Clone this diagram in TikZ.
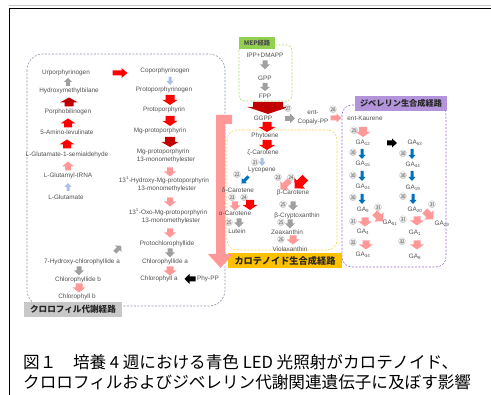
\documentclass[tikz,border=0pt]{standalone}
\usepackage{fontspec}
\setmainfont{Liberation Sans}
\newfontfamily\jp{Noto Sans CJK JP}
\definecolor{tx}{HTML}{505050}
\definecolor{rd}{HTML}{FF0000}
\definecolor{drd}{HTML}{C00000}
\definecolor{pk}{HTML}{FF9999}
\definecolor{lb}{HTML}{A9C1E8}
\definecolor{bl}{HTML}{0070C0}
\definecolor{gy}{HTML}{A0A0A0}
\definecolor{chlb}{HTML}{8C96A8}
\definecolor{mepg}{HTML}{92D050}
\definecolor{mepd}{HTML}{A9DB6E}
\definecolor{caro}{HTML}{FFC000}
\definecolor{carod}{HTML}{FFD24D}
\definecolor{gapu}{HTML}{B394DB}
\definecolor{gapd}{HTML}{9A6ACB}
\definecolor{chlg}{HTML}{C8C8C8}
% block arrow: x, y, angle, length, shaft, head width, head length, colour
\newcommand\BArr[8]{\fill[#8,shift={(#1,#2)},rotate=#3] (-#4/2,-#5/2) -- ({#4/2-#7},-#5/2) -- ({#4/2-#7},-#6/2) -- (#4/2,0) -- ({#4/2-#7},#6/2) -- ({#4/2-#7},#5/2) -- (-#4/2,#5/2) -- cycle;}
\tikzset{
  lbl/.style={font=\fontsize{6.4}{8.6}\selectfont, text=tx, inner sep=0pt, align=center},
  cnum/.style={font=\jp\fontsize{7.4}{7.4}\selectfont, text=black!55, circle, fill=gray!22, inner sep=-1.7pt},
  jlab/.style={font=\jp\bfseries\fontsize{8.6}{9}\selectfont, inner sep=0pt, text=black!85},
  pathbox/.style={dashed, dash pattern=on 2pt off 1.5pt, line width=0.6pt},
}
\begin{document}
\begin{tikzpicture}[x=1pt,y=-1pt]
\useasboundingbox (0,0) rectangle (491,395);
% frame
\draw[gray!45, line width=1.6pt] (9,5.5) -- (491,5.5);
\draw[black, line width=1pt] (9,395) -- (9,8.3) -- (491,8.3);

% ---------- pathway boxes ----------
\draw[pathbox, chlb, rounded corners=16pt] (27,54) rectangle (225,306);
\draw[pathbox, mepd, rounded corners=5pt] (239,45) rectangle (292,101);
\draw[pathbox, carod, rounded corners=10pt] (227,130) rectangle (337,250);
\draw[pathbox, gapd, rounded corners=10pt] (342,105) rectangle (446,267);

\node[jlab, fill=chlg, minimum width=98pt, minimum height=15pt] (chllab) at (73,309.5) {クロロフィル代謝経路};
\node[jlab, fill=caro, minimum width=114pt, minimum height=15pt, font=\jp\bfseries\fontsize{9.2}{9.5}\selectfont] (carlab) at (285,260.5) {カロテノイド生合成経路};
\node[jlab, fill=gapu, minimum width=92pt, minimum height=15pt, font=\jp\bfseries\fontsize{8.2}{9}\selectfont] (galab) at (401,103.5) {ジベレリン生合成経路};
\node[jlab, fill=mepg, minimum width=36pt, minimum height=12pt, font=\jp\bfseries\fontsize{6.3}{7}\selectfont, text=black!70] (meplab) at (257,43) {MEP経路};

% ---------- big pink L-arrow from GGPP ----------
\fill[pk] (216,115) -- (232,115) -- (232,124) -- (225,124) -- (225,254) -- (233,254) -- (220.5,268) -- (208,254) -- (216,254) -- cycle;

% ---------- chlorophyll: left column ----------
\node[lbl] (urp) at (66,73) {Urporphyrinogen};
\node[lbl] (hmb) at (69,91) {Hydroxymethylbilane};
\node[lbl] (pbg) at (68,112) {Porphobilinogen};
\node[lbl] (ala) at (67,132) {5-Amino-levulinate};
\node[lbl] (gsa) at (67,155) {L-Glutamate-1-semialdehyde};
\node[lbl] (gtr) at (68,176) {L-Glutamyl-tRNA};
\node[lbl] (glu) at (66,197) {L-Glutamate};
\BArr{68}{82}{90}{8}{4}{8}{4}{gy}
\BArr{69}{102}{90}{9}{9}{18}{5}{drd}
\BArr{68}{123}{90}{9}{8}{15}{5}{rd}
\BArr{67}{144}{90}{9}{8}{15}{5}{rd}
\BArr{68}{166}{90}{9}{6}{12}{5}{pk}
\BArr{68}{187}{90}{8}{3}{7}{4}{lb}

% ---------- chlorophyll: right column ----------
\node[lbl] (cop) at (165,71) {Coporphyrinogen};
\node[lbl] (ppg) at (164,90) {Protoporphyrinogen};
\node[lbl] (ppn) at (164,110) {Protoporphyrin};
\node[lbl] (mgp) at (160,131) {Mg-protoporphyrin};
\node[lbl] (mgme) at (163,156) {Mg-protoporphyrin\\\hspace*{6pt}13-monomethylester};
\node[lbl] (hyd) at (164,184.5) {13\textsuperscript{1}-Hydroxy-Mg-protoporphyrin\\\hspace*{6pt}13-monomethylester};
\node[lbl] (oxo) at (168,216.5) {13\textsuperscript{1}-Oxo-Mg-protoporphyrin\\\hspace*{6pt}13-monomethylester};
\node[lbl] (pchl) at (167,244) {Protochlorophyllide};
\node[lbl] (chlda) at (165,262) {Chlorophyllide a};
\node[lbl] (chla) at (159,279) {Chlorophyll a};
\node[lbl] (phypp) at (208,279) {Phy-PP};
\node[lbl] (hchl) at (82,262) {7-Hydroxy-chlorophyllide a};
\node[lbl] (chldb) at (78,280) {Chlorophyllide b};
\node[lbl] (chlb) at (77,297) {Chlorophyll b};
\BArr{120}{73}{0}{15}{5}{10}{6}{rd}
\BArr{170}{81}{-90}{8}{3}{7}{4}{lb}
\BArr{170}{100}{-90}{10}{9}{15}{5}{rd}
\BArr{170}{121}{-90}{10}{9}{15}{5}{rd}
\BArr{170}{142}{-90}{10}{10}{17}{5}{drd}
\BArr{170}{172}{-90}{9}{6}{12}{5}{pk}
\BArr{170}{202}{-90}{9}{6}{12}{5}{pk}
\BArr{170}{233}{-90}{9}{6}{12}{5}{pk}
\BArr{170}{253}{-90}{9}{5}{10}{5}{gy}
\BArr{170}{271}{-90}{9}{7}{13}{5}{pk}
\BArr{118}{249}{45}{9}{4}{9}{4}{gy}
\BArr{79}{271}{-90}{9}{5}{10}{5}{gy}
\BArr{79}{288}{-90}{9}{7}{13}{5}{pk}
\BArr{190}{279}{180}{11}{5}{10}{5}{black}

% ---------- MEP ----------
\node[lbl] (ipp) at (265,55) {IPP+DMAPP};
\node[lbl] (gpp) at (265,78) {GPP};
\node[lbl] (fpp) at (265,96) {FPP};
\node[lbl] (ggpp) at (263,118.5) {GGPP};
\BArr{265}{65}{-90}{9}{5}{10}{5}{gy}
\BArr{265}{87}{-90}{8}{5}{10}{4}{gy}
\BArr{268}{108}{-90}{12}{30}{42}{7}{drd}

% ---------- GGPP -> ent-Kaurene ----------
\node[cnum] (n27) at (288,109) {㉗};
\BArr{290}{118.5}{0}{10}{5}{10}{5}{gy}
\node[lbl] (cpp) at (313,117.5) {ent-\\Copaly-PP};
\node[cnum] (n28) at (333,110) {㉘};
\BArr{336}{118}{0}{11}{5}{9}{5}{pk}
\node[lbl] (kau) at (365,118) {ent-Kaurene};

% ---------- carotenoids ----------
\node[lbl] (phy) at (265,136) {Phytoene};
\node[lbl] (zcar) at (263,153) {ζ-Carotene};
\node[lbl] (lyc) at (262,170) {Lycopene};
\BArr{267}{127}{-90}{10}{9}{17}{5}{rd}
\BArr{267}{145}{-90}{10}{9}{16}{5}{rd}
\node[cnum] (n21) at (255,163) {㉑};
\BArr{262}{162}{-90}{8}{3}{7}{4}{lb}
\node[cnum] (n22) at (237,175) {㉒};
\BArr{245}{180}{-135}{10}{3}{7}{4}{bl}
\node[lbl] (dcar) at (238,190) {δ-Carotene};
\node[cnum] (n23a) at (278,178) {㉓};
\node[cnum] (n24a) at (291,178) {㉔};
\BArr{285}{185}{-135}{13}{6}{12}{6}{pk}
\BArr{300}{183}{-135}{15}{8}{15}{7}{rd}
\node[lbl] (bcar) at (293,193) {β-Carotene};
\node[cnum] (n23b) at (232,198) {㉓};
\node[cnum] (n24b) at (244,198) {㉔};
\BArr{235}{206}{-90}{9}{6}{11}{5}{pk}
\BArr{250}{205}{-90}{10}{8}{15}{5}{rd}
\node[lbl] (acar) at (235,213) {α-Carotene};
\node[cnum] (n25a) at (229,223) {㉕};
\BArr{239}{223}{-90}{9}{5}{10}{5}{gy}
\node[lbl] (lut) at (237,231) {Lutein};
\node[cnum] (n25b) at (283,205) {㉕};
\BArr{293}{206}{-90}{9}{5}{10}{5}{gy}
\node[lbl] (bcry) at (297,216) {β-Cryptoxanthin};
\node[cnum] (n25c) at (281,223) {㉕};
\BArr{290}{224}{-90}{9}{5}{10}{5}{gy}
\node[lbl] (zea) at (287,232) {Zeaxanthin};
\node[cnum] (n26) at (281,240) {㉖};
\BArr{293}{240}{-90}{9}{7}{13}{5}{pk}
\node[lbl] (vio) at (290,249) {Violaxanthin};

% ---------- gibberellins ----------
\node[cnum] (n29) at (354,131) {㉙};
\BArr{363}{132}{-90}{10}{8}{15}{5}{pk}
\node[lbl] (ga12) at (363,143) {GA\textsubscript{12}};
\BArr{392}{143}{0}{10}{5}{9}{5}{black}
\node[lbl] (ga53) at (415,143) {GA\textsubscript{53}};
\node[cnum] (n30a) at (353,153) {㉚};
\BArr{362}{154}{-90}{10}{3}{7}{4}{bl}
\node[lbl] (ga15) at (363,164) {GA\textsubscript{15}};
\node[cnum] (n30b) at (403,154) {㉚};
\BArr{412}{154}{-90}{10}{3}{7}{4}{bl}
\node[lbl] (ga44) at (413,165) {GA\textsubscript{44}};
\node[cnum] (n30c) at (353,176) {㉚};
\BArr{362}{176}{-90}{10}{3}{7}{4}{bl}
\node[lbl] (ga24) at (363,187) {GA\textsubscript{24}};
\node[cnum] (n30d) at (403,176) {㉚};
\BArr{412}{176}{-90}{10}{3}{7}{4}{bl}
\node[lbl] (ga19) at (413,188) {GA\textsubscript{19}};
\node[cnum] (n30e) at (353,198) {㉚};
\BArr{362}{199}{-90}{10}{3}{7}{4}{bl}
\node[lbl] (ga9) at (363,210) {GA\textsubscript{9}};
\node[cnum] (n30f) at (403,197) {㉚};
\BArr{413}{199}{-90}{10}{3}{7}{4}{bl}
\node[lbl] (ga20) at (415,210) {GA\textsubscript{20}};
\node[cnum] (n31a) at (353,222) {㉛};
\BArr{365}{222}{-90}{9}{7}{14}{5}{pk}
\node[lbl] (ga4) at (363,232) {GA\textsubscript{4}};
\node[cnum] (n31b) at (378,208) {㉛};
\BArr{379}{217}{-45}{12}{7}{13}{6}{pk}
\node[lbl] (ga51) at (390,223) {GA\textsubscript{51}};
\node[cnum] (n31c) at (403,220) {㉛};
\BArr{417}{221}{-90}{9}{7}{14}{5}{pk}
\node[lbl] (ga1) at (415,233) {GA\textsubscript{1}};
\node[cnum] (n31d) at (432,205) {㉛};
\BArr{429}{215}{-45}{12}{7}{13}{6}{pk}
\node[lbl] (ga29) at (442,224) {GA\textsubscript{29}};
\node[cnum] (n32a) at (353,243) {㉜};
\BArr{366}{245}{-90}{9}{7}{14}{5}{pk}
\node[lbl] (ga34) at (363,255) {GA\textsubscript{34}};
\node[cnum] (n32b) at (402,242) {㉜};
\BArr{417}{245}{-90}{9}{7}{14}{5}{pk}
\node[lbl] (ga8) at (415,257) {GA\textsubscript{8}};

% ---------- caption ----------
\node[anchor=west, inner sep=0pt, font=\jp\fontsize{16.6}{18}\selectfont] (cap1) at (23,362) {図１　培養 4 週における青色 LED 光照射がカロテノイド、};
\node[anchor=west, inner sep=0pt, font=\jp\fontsize{16.6}{18}\selectfont] (cap2) at (23,382) {クロロフィルおよびジベレリン代謝関連遺伝子に及ぼす影響};
\end{tikzpicture}
\end{document}
